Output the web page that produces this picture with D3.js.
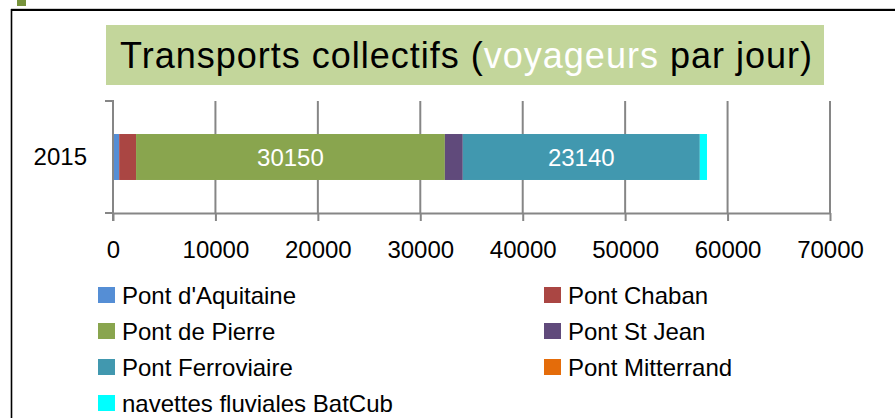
<!DOCTYPE html>
<html>
<head>
<meta charset="utf-8">
<script src="https://cdn.jsdelivr.net/npm/d3@7"></script>
<style>
  body { margin: 0; background: #fff; }
  text { font-family: "Liberation Sans", Arial, sans-serif; }
</style>
</head>
<body>
<script>
const years = ["2015"];
const seriesNames = ["Pont d'Aquitaine", "Pont Chaban", "Pont de Pierre", "Pont St Jean",
  "Pont Ferroviaire", "Pont Mitterrand", "navettes fluviales BatCub"];
const seriesValues = [600, 1650, 30150, 1750, 23140, 0, 700];
const seriesColors = ["#558ED5", "#AA4643", "#89A54E", "#604A7B", "#4198AF", "#E46C0A", "#00FFFF"];
const labelled = ["Pont de Pierre", "Pont Ferroviaire"];
const xTicks = [0, 10000, 20000, 30000, 40000, 50000, 60000, 70000];

const W = 895, H = 418;
const svg = d3.select("body").append("svg").attr("width", W).attr("height", H);

// frame
svg.append("rect").attr("x", 17).attr("y", 0).attr("width", 9).attr("height", 6).attr("fill", "#77933C");
svg.append("line").attr("x1", 11).attr("x2", W).attr("y1", 8.5).attr("y2", 8.5).attr("stroke", "#d0d0d0");
svg.append("line").attr("x1", 11).attr("x2", W).attr("y1", 10).attr("y2", 10).attr("stroke", "#000").attr("stroke-width", 2);
svg.append("line").attr("x1", 11.5).attr("x2", 11.5).attr("y1", 9).attr("y2", H).attr("stroke", "#000").attr("stroke-width", 1.6);

// title
svg.append("rect").attr("x", 106).attr("y", 25).attr("width", 718).attr("height", 60).attr("fill", "#C3D69B");
const title = svg.append("text").attr("x", 120).attr("y", 68).attr("font-size", 36).attr("fill", "#000");
title.append("tspan").text("Transports collectifs (");
title.append("tspan").attr("fill", "#fff").text("voyageurs");
title.append("tspan").text(" par jour)");
const tw = title.node().getComputedTextLength();
const nChars = "Transports collectifs (voyageurs par jour)".length;
title.attr("letter-spacing", (692 - tw) / (nChars - 1));

// scales
const x = d3.scaleLinear().domain([0, 70000]).range([113, 830]);
const y = d3.scaleBand().domain(years).range([101, 213]).paddingInner(0.418).paddingOuter(0.418);
const axisColor = "#868686";

// gridlines
svg.append("g").selectAll("line").data(xTicks.slice(1)).join("line")
  .attr("x1", d => x(d)).attr("x2", d => x(d))
  .attr("y1", 101).attr("y2", 213)
  .attr("stroke", axisColor).attr("stroke-width", 2);

// stacked bar
let stackData = [];
let acc = 0;
seriesValues.forEach((v, i) => {
  stackData.push({ name: seriesNames[i], value: v, x0: acc, x1: acc + v, color: seriesColors[i] });
  acc += v;
});

const bars = svg.append("g");
bars.selectAll("rect").data(stackData.filter(d => d.value > 0)).join("rect")
  .attr("x", d => x(d.x0)).attr("width", d => x(d.x1) - x(d.x0))
  .attr("y", y("2015")).attr("height", y.bandwidth())
  .attr("fill", d => d.color);

bars.selectAll("text").data(stackData.filter(d => labelled.includes(d.name))).join("text")
  .attr("x", d => (x(d.x0) + x(d.x1)) / 2)
  .attr("y", y("2015") + y.bandwidth() / 2)
  .attr("dy", "0.36em")
  .attr("text-anchor", "middle")
  .attr("font-size", 24)
  .attr("fill", "#fff")
  .text(d => d.value);

// x axis
const xAxis = svg.append("g").attr("transform", "translate(0,213)")
  .call(d3.axisBottom(x).tickValues(xTicks).tickSize(8).tickSizeOuter(0).tickPadding(20).tickFormat(d3.format("d")));
xAxis.select(".domain").attr("stroke", axisColor).attr("stroke-width", 2);
xAxis.selectAll(".tick line").attr("stroke", axisColor).attr("stroke-width", 2);
xAxis.selectAll(".tick text").attr("font-size", 24).attr("fill", "#000").attr("font-family", null);

// y axis
const yAxis = svg.append("g").attr("transform", "translate(113,0)")
  .call(d3.axisLeft(y).tickSize(0).tickPadding(26));
yAxis.select(".domain").remove();
yAxis.selectAll(".tick text").attr("font-size", 24).attr("fill", "#000").attr("font-family", null);
yAxis.append("line").attr("x1", 0).attr("x2", 0).attr("y1", 100).attr("y2", 221)
  .attr("stroke", axisColor).attr("stroke-width", 2);
yAxis.selectAll(".edge").data(y.range()).join("line")
  .attr("x1", -8).attr("x2", 0).attr("y1", d => d).attr("y2", d => d)
  .attr("stroke", axisColor).attr("stroke-width", 2);

// legend
const legend = svg.append("g");
const item = legend.selectAll("g").data(seriesNames).join("g")
  .attr("transform", (d, i) => `translate(${i % 2 === 0 ? 98 : 544},${295 + Math.floor(i / 2) * 36})`);
item.append("rect").attr("x", 0).attr("y", -8).attr("width", 17).attr("height", 16)
  .attr("fill", (d, i) => seriesColors[i]);
item.append("text").attr("x", 24).attr("dy", "0.36em").attr("font-size", 24).attr("fill", "#000")
  .text(d => d);
</script>
</body>
</html>
